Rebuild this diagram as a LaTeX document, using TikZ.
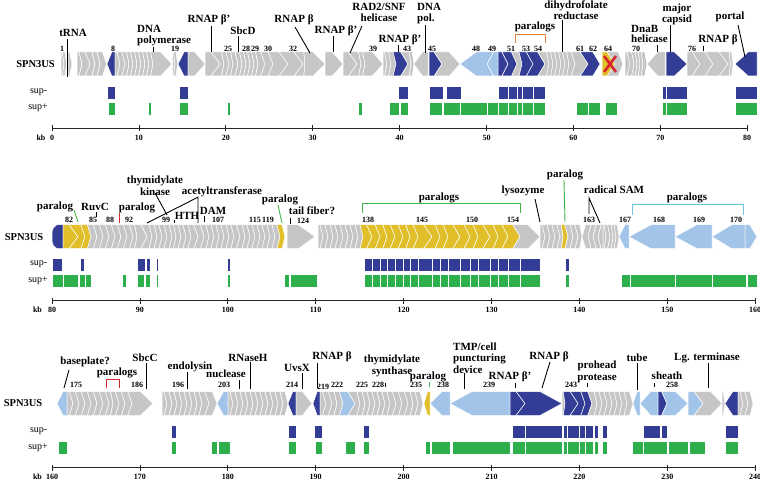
\documentclass[tikz,border=0pt]{standalone}
\usepackage{fontspec}
\setmainfont{Liberation Serif}
\definecolor{G}{HTML}{C6C6C6}
\definecolor{B}{HTML}{333D96}
\definecolor{L}{HTML}{A3C4E9}
\definecolor{Y}{HTML}{E1BF2A}
\definecolor{Gr}{HTML}{2DB04B}
\definecolor{Or}{HTML}{E8823A}
\definecolor{Rd}{HTML}{D8262E}
\definecolor{Cy}{HTML}{6CC5DB}
\definecolor{Lg}{HTML}{3DB54A}
\tikzset{
 gene/.style={draw=white,line width=0.5pt,line join=round},
 bar/.style={draw=white,line width=0.6pt},
 lab/.style={font=\fontsize{11}{11.5}\selectfont\bfseries,inner sep=0pt,align=center},
 num/.style={font=\fontsize{8}{8}\selectfont\bfseries,inner sep=0pt},
 ptr/.style={line width=0.9pt},
 brk/.style={line width=1pt},
 kbline/.style={line width=0.8pt,black!85},
 rowname/.style={font=\fontsize{10.5}{11}\selectfont\bfseries,anchor=east,inner sep=0pt},
 suplab/.style={font=\fontsize{10}{10}\selectfont,anchor=east,inner sep=0pt}
}
\newcommand\runF[2]{%
  \xdef\gA{#1}\xdef\gP{0}%
  \foreach \gx/\gc in {#2}{%
    \pgfmathsetmacro\gT{min(0.6*(\gx-\gA),22)}%
    \pgfmathsetmacro\gD{ifthenelse(\gP<9.01,\gP,0)}%
    \filldraw[gene,fill=\gc] ({\gA-\gD},52) -- ({\gx-\gT},52) -- (\gx,64) -- ({\gx-\gT},76) -- ({\gA-\gD},76) -- (\gA,64) -- cycle;
    \xdef\gA{\gx}\xdef\gP{\gT}%
  }}
\newcommand\runR[2]{%
  \xdef\gA{#1}\xdef\gP{0}%
  \foreach \gx/\gc in {#2}{%
    \pgfmathsetmacro\gT{min(0.6*(\gA-\gx),22)}%
    \pgfmathsetmacro\gD{ifthenelse(\gP<9.01,\gP,0)}%
    \filldraw[gene,fill=\gc] (\gx,64) -- ({\gx+\gT},52) -- ({\gA+\gD},52) -- (\gA,64) -- ({\gA+\gD},76) -- ({\gx+\gT},76) -- cycle;
    \xdef\gA{\gx}\xdef\gP{\gT}%
  }}
\newcommand\barsM[1]{\foreach \xa/\xb in {#1}{\filldraw[bar,fill=B] (\xa,86) rectangle (\xb,99);}}
\newcommand\barsP[1]{\foreach \xa/\xb in {#1}{\filldraw[bar,fill=Gr] (\xa,102) rectangle (\xb,115);}}
\newcommand\kbaxis[4]{%
  \draw[kbline] (52,128) -- (#1,128);
  \foreach \i in {0,...,8}{%
    \pgfmathsetmacro\axX{52+#2*\i}%
    \pgfmathtruncatemacro\axL{#3+10*\i}%
    \draw[kbline] (\axX,125) -- (\axX,131);
    \node[num] at (\axX,137.5) {\axL};}
  \node[num] at (#4,137.5) {kb};}
\newcommand\rowlabels[1]{%
  \node[rowname] at (#1,64) {SPN3US};
  \node[suplab] at (47.5,92) {sup-};
  \node[suplab] at (48,108) {sup+};}
\begin{document}
\begin{tikzpicture}[x=1pt,y=-1pt]
\useasboundingbox (0,0) rectangle (760,481);
\fill[white] (0,0) rectangle (760,481);

% ================= ROW 1 =================
\begin{scope}
\rowlabels{55}
\runF{61}{64/G,66.5/G}
\runF{68}{72/G}
\runF{77}{82/G,90/G,95/G,100/G,106.5/G}
\runR{115}{107/B}
\runF{115}{120/G,125/G,129/G,133/G,137/G,141/G,145/G,149/G,153/G,172/G}
\runF{172.5}{175/G,177.5/G}
\runR{188}{178/B}
\runF{188}{205/G,220/G,224/G,229/G,233/G,238/G,242/G,246/G,250/G,254/G,258/G,265/G,273/G,288/G,303/G,305/G,325/G,343/G,357/G,361/G,365/G,383/G,387/G,391/G,396/G,408/B,411/G,414/G}
\runR{428}{414/G}
\runF{429}{442/B,460/G}
\runR{498}{487/L,460/L}
\runF{498}{508/B,517/B,522/G,533/B,545/B,549/G,553/G,557/G,561/G,565/G,569/G,575/G,588/G,600/B}
\runF{602}{615/Y,623/G}
\runF{625}{630/G,634/G,637/G,640/G,643/G,647/G}
\runR{665}{647/G}
\runF{666}{687/B,700/G,713/G,728/G,730.5/G,733/G}
\runR{757}{735/B}
\draw[Rd,line width=2.6pt] (604,56) -- (616,72) (604,72) -- (616,56);
\barsM{107/115,179/188,398/408,429/443,446/461,498/508,508/517,517/522,522/533,533/545,662/666,666/687,735/757}
\barsP{108/115,148/151,179/188,227/230,358/362,389/399,400/408,429/442,443/460,460/487,487/498,498/508,508/517,517/522,522/533,533/545,576/588,588/600,605/617,662/666,666/687,735/757}
\kbaxis{747}{86.9}{0}{41}
% labels
\node[lab] at (73,33) {tRNA};
\draw[ptr] (67,39) -- (67,77);
\node[lab,align=left,anchor=north west] at (137,25) {DNA\\polymerase};
\draw[ptr] (153,47) -- (153,52);
\node[lab] at (209,20) {RNAP β'};
\draw[ptr] (211,26) -- (211,52);
\node[lab] at (243,31) {SbcD};
\draw[ptr] (238,36) -- (238,52);
\node[lab] at (294,20) {RNAP β};
\draw[ptr] (295,27) -- (310,53);
\node[lab] at (336,31) {RNAP β'};
\draw[ptr] (333,36) -- (333,52);
\node[lab,anchor=north] at (379,3) {RAD2/SNF\\helicase};
\draw[ptr] (362,26) -- (350,53);
\node[lab] at (400,40) {RNAP β'};
\draw[ptr] (398,45) -- (398,52);
\node[lab,align=left,anchor=north west] at (417,3) {DNA\\pol.};
\draw[ptr] (425,25) -- (425,53);
\node[lab] at (535,27) {paralogs};
\draw[Or,brk] (515,43) -- (515,35) -- (545,35) -- (545,43);
\node[lab,anchor=north] at (576,0.5) {dihydrofolate\\reductase};
\draw[ptr] (562,20) -- (562,52);
\node[lab,align=left,anchor=north west,font=\fontsize{11}{10.5}\selectfont\bfseries] at (631,25) {DnaB\\helicase};
\draw[ptr] (657,45.5) -- (657,52);
\node[lab,anchor=north] at (677,3.5) {major\\capsid};
\draw[ptr] (670,25) -- (670,52);
\node[lab] at (718,40) {RNAP β};
\draw[ptr] (703,46) -- (703,51);
\node[lab] at (730,17) {portal};
\draw[ptr] (738,25) -- (745,57);
\foreach \px/\pt in {62/1,113/8,175/19,228/25,246/28,255/29,268/30,293/32,373/39,407/43,432/45,476/48,492/49,511/51,526/53,538/54,580/61,593/62,608/64,636/70,692/76}
  {\node[num] at (\px,48.5) {\pt};}
\end{scope}

% ================= ROW 2 =================
\begin{scope}[shift={(0,172.7)}]
\rowlabels{43.5}
\filldraw[gene,fill=B] (52,59) -- (53.5,55) -- (57,52) -- (63,52) -- (63,76) -- (57,76) -- (53.5,73) -- (52,69) -- cycle;
\runF{63}{78/Y,85/Y,91/Y,97/G,103/G,109/G,115/G,121/G,127/G,133/G,137/G,147/G,152/G,157/G,162/G,167/G,172/G,176/G,181/G,186/G,191/G,198/G,204/G,209/G,214/G,219/G,224/G,229/G,234/G,240/G,245/G,250/G,255/G,260/G,265/G,270/G,275/G,280/G,285/Y}
\runF{287}{315/G}
\runF{318}{323/G,328/G,333/G,338/G,343/G,348/G,353/G,358/G,363/G,372/Y,380/Y,387/Y,395/Y,403/Y,410/Y,418/Y,432/Y,440/Y,448/Y,460/Y,470/Y,478/Y,490/Y,498/Y,508/Y,520/Y,540/G,545/G,550/G,555/G,560/G,563/G,568/Y,573/G,578/G,582/G}
\runR{603}{598/G,593/G,588/G,582/G}
\runF{603}{606/G,610/G,613/G,616/G,619/G}
\runR{745}{712/L,675/L,629/L,619/L}
\runF{745}{757/L}
\barsM{52/62,80/84,137/145,146/150,156/158,227/230,364/372,372/380,380/387,387/395,395/403,403/410,410/418,418/432,432/440,440/448,448/460,460/470,470/478,478/490,490/498,498/508,508/520,520/540,565/569}
\barsP{52/63,63/78,79/85,85/91,122/126,137/144,145/150,156/158,227/230,284/289,290/317,364/372,372/380,380/387,387/395,395/403,403/410,410/418,418/432,432/440,440/448,448/460,460/470,470/478,478/490,490/498,498/508,508/520,520/540,565/569,621/630,630/675,675/712,712/746,747/757}
\kbaxis{755}{87.9}{80}{37.5}
\node[lab] at (55,34.3) {paralog};
\draw[Lg,ptr] (74,37.3) -- (78,49.3);
\node[lab] at (95,34.3) {RuvC};
\draw[ptr] (96,39.5) -- (96,44);
\draw[Rd,ptr] (119,40.3) -- (119,50.3);
\node[lab] at (137,35.3) {paralog};
\node[lab,anchor=north] at (155,3) {thymidylate\\kinase};
\draw[ptr] (155,20.3) -- (167,42.3);
\node[lab] at (187,43.5) {HTH};
\draw[ptr] (174,47.3) -- (174,50.5);
\node[lab] at (222,19.3) {acetyltransferase};
\draw[ptr] (147,50.3) -- (198,24.5) -- (198,50.3);
\node[lab] at (213,38.3) {DAM};
\draw[ptr] (204,43.5) -- (204,49.5);
\node[lab] at (280,27.3) {paralog};
\draw[Lg,ptr] (278,32.3) -- (282,50.3);
\node[lab] at (312,37.8) {tail fiber?};
\draw[ptr] (290,45.3) -- (290,51.3);
\draw[Lg,brk] (362,40.3) -- (362,31.3) -- (520,31.3) -- (520,40.3);
\node[lab] at (439,25.3) {paralogs};
\node[lab] at (523,18.3) {lysozyme};
\draw[ptr] (535,26.3) -- (540,49.3);
\node[lab] at (565,2.3) {paralog};
\draw[Lg,ptr] (564,7.5) -- (565,49.3);
\node[lab] at (614,17.3) {radical SAM};
\draw[ptr] (589,41.3) -- (589,25.3) -- (600,50.3);
\draw[Cy,brk] (632,42.3) -- (632,32.3) -- (743,32.3) -- (743,42.3);
\node[lab] at (687,25.3) {paralogs};
\foreach \px/\pt in {69/82,93/85,110/88,129/92,166/99,218/107,255/115,268/119,368/138,422/145,472/150,513/154,589/163,625/167,659/168,699/169,736/170}
  {\node[num] at (\px,47.5) {\pt};}
\node[num] at (303,48) {124};
\end{scope}

% ================= ROW 3 =================
\begin{scope}[shift={(0,339.5)}]
\rowlabels{42.5}
\runR{67}{57/L}
\runF{67}{73/G,79/G,85/G,91/G,97/G,103/G,109/G,113/G,119/G,125/G,132/G,153/G}
\runF{162}{167/G,172/G,177/G,182/G,187/G,192/G,197/G,202/G,209/G,217/G}
\runR{228}{217/L}
\runF{228}{233/G,238/G,243/G,248/G,253/G,258/G,263/G,268/G,273/G,278/G,283/G,288/G}
\runR{296}{288/B}
\runF{296}{312/G}
\runR{320}{313/B}
\runF{320}{326/G,332/G,337/G,343/G,355/L,360/G,365/G,370/G,375/G,380/G,385/G,390/G,396/G,402/G,408/G,413/G,418/G,423/G}
\runR{430}{424/Y}
\runR{510}{450/L,430/L}
\runF{510}{525/B,562/B,565/G,578/B,585/B,592/B,597/G,602/G,607/G,612/G,617/G,622/G,627/G,633/G}
\runR{658}{640/L,633/L}
\runF{658}{667/B,688/L,703/L,722/G,725/G}
\runR{738}{725/B}
\runF{738}{743/G,748/G,753/G}
\barsM{171/176,288/296,314/322,363/369,512/525,525/562,563/567,567/579,579/585,585/593,594/598,602/607,643/660,661/667,725/738}
\barsP{58/67,171/176,211/217,218/230,288/296,315/322,345/355,363/369,425/430,431/450,452/510,512/525,525/562,563/567,567/579,579/585,585/593,594/598,602/607,632/643,643/667,668/688,689/705,725/738}
\kbaxis{755}{87.9}{160}{37.5}
\node[lab] at (85,22.5) {baseplate?};
\draw[ptr] (69,30.5) -- (64,48.5);
\node[lab] at (117,33) {paralogs};
\draw[Rd,brk] (106,48.5) -- (106,39.5) -- (119,39.5) -- (119,48.5);
\node[lab] at (145,18.5) {SbcC};
\draw[ptr] (146,23.5) -- (146,49.5);
\node[lab] at (190,27.5) {endolysin};
\draw[ptr] (187,32.5) -- (187,49.5);
\node[lab] at (226,34.5) {nuclease};
\draw[ptr] (239,40.5) -- (239,49.5);
\node[lab] at (248,18.5) {RNaseH};
\draw[ptr] (250,22.5) -- (250,49.5);
\node[lab] at (297,28.5) {UvsX};
\draw[ptr] (302,33.5) -- (302,49.5);
\node[lab] at (332,17.5) {RNAP β};
\draw[ptr] (317,23.5) -- (317,48.5);
\node[lab,anchor=north] at (392,15.5) {thymidylate\\synthase};
\draw[ptr] (385,43.5) -- (385,47.5);
\node[lab] at (428,37.5) {paralog};
\draw[Lg,ptr] (429,42.5) -- (429,47.5);
\node[lab,align=left,anchor=north west] at (453,2.8) {TMP/cell\\puncturing\\device};
\draw[ptr] (464,33.5) -- (464,49.5);
\node[lab] at (510,37.5) {RNAP β'};
\draw[ptr] (515,43.5) -- (515,48.5);
\node[lab] at (549,17.5) {RNAP β};
\draw[ptr] (550,22.5) -- (542,48.5);
\node[lab,anchor=north] at (597,21.5) {prohead\\protease};
\draw[ptr] (587,43.5) -- (587,47.5);
\node[lab] at (637,18.5) {tube};
\draw[ptr] (637,23.5) -- (637,50.5);
\node[lab] at (667,36.5) {sheath};
\draw[ptr] (654,43.5) -- (654,47.5);
\node[lab] at (707,18.5) {Lg. terminase};
\draw[ptr] (708,23.5) -- (708,48.5);
\foreach \px/\pt in {76/175,137/186,178/196,224/203,292/214,337/222,362/225,378/228,416/235,443/238,489/239,571/243,672/258}
  {\node[num] at (\px,45.5) {\pt};}
\node[num] at (323,47.5) {219};
\end{scope}
\end{tikzpicture}
\end{document}
